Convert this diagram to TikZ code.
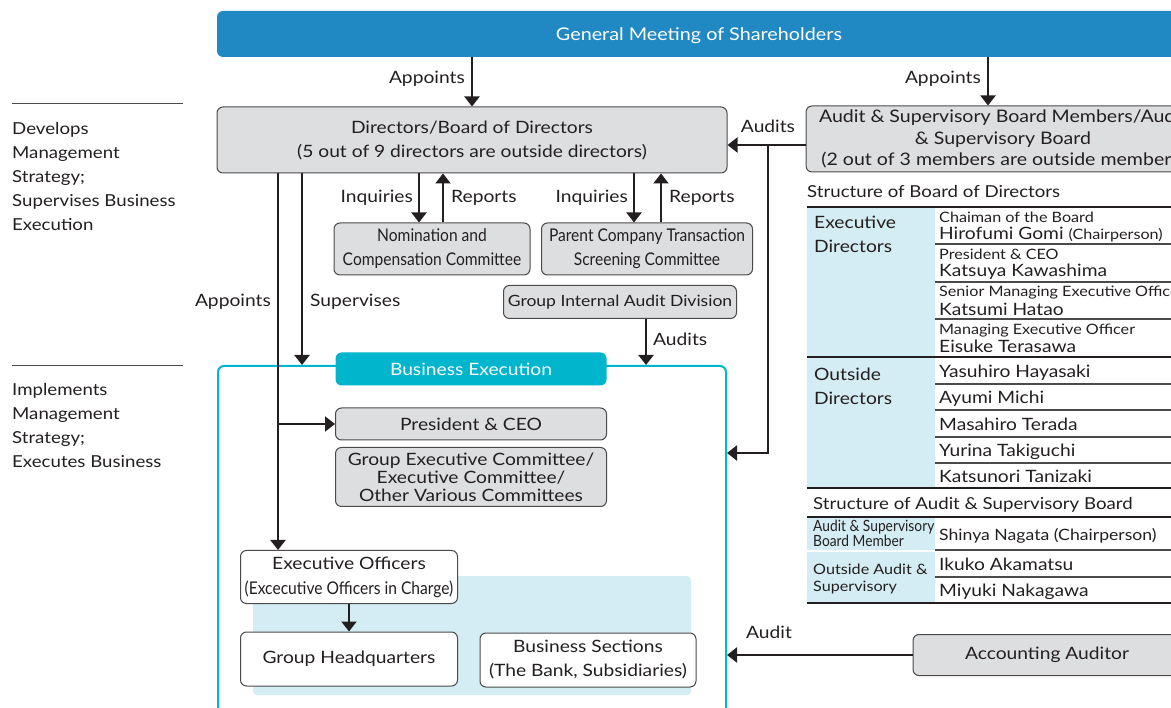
\documentclass[tikz,border=0pt]{standalone}
\usepackage{fontspec}
\setmainfont{Lato}[FakeStretch=1.13]
\newfontfamily\condf[FakeStretch=0.89]{Lato}
\usetikzlibrary{arrows.meta,calc}
\definecolor{gmblue}{HTML}{2089C4}
\definecolor{boxgray}{HTML}{DDDEE0}
\definecolor{boxedge}{HTML}{4A4A4A}
\definecolor{txt}{HTML}{231F20}
\definecolor{cyanb}{HTML}{00B5CC}
\definecolor{lblue}{HTML}{D4ECF3}
\tikzset{
  graybox/.style={draw=boxedge, fill=boxgray, rounded corners=6pt, line width=1pt, inner sep=0pt, align=center, text=txt, font=\fontsize{17}{24}\selectfont},
  whitebox/.style={graybox, fill=white},
  arr/.style={line width=2pt, draw=txt, -{Triangle[width=15pt,length=10pt]}},
  lbl/.style={font=\fontsize{17}{20}\selectfont, text=txt, inner sep=0pt},
  side/.style={font=\fontsize{16.5}{24}\selectfont, text=txt, inner sep=0pt, align=left, anchor=north west},
  cell/.style={font=\fontsize{17}{20}\selectfont, text=txt, inner sep=0pt, anchor=base west},
  smallcell/.style={font=\fontsize{14.3}{17}\selectfont, text=txt, inner sep=0pt, anchor=base west},
  tline/.style={line width=1.6pt, draw=txt},
  sline/.style={line width=1.2pt, draw=boxedge},
}
\begin{document}
\begin{tikzpicture}[x=1pt,y=-1pt]
\useasboundingbox (0,0) rectangle (1171,708);
\clip (0,0) rectangle (1171,708);

% left side texts
\draw[line width=1pt, draw=boxedge] (12,104) -- (183,104);
\node[side] (devtxt) at (12,122) {Develops\\Management\\Strategy;\\Supervises Business\\Execution};
\draw[line width=1pt, draw=boxedge] (12,366) -- (183,366);
\node[side] (imptxt) at (12,383) {Implements\\Management\\Strategy;\\Executes Business};

% general meeting
\node[fill=gmblue, rounded corners=6pt, minimum width=964pt, minimum height=46pt, inner sep=0pt] (gm) at (699,34) {};
\node[text=white, inner sep=0pt, font=\fontsize{17.5}{20}\selectfont] (gmtxt) at (699,36) {General Meeting of Shareholders};

% directors
\node[graybox, minimum width=510pt, minimum height=66pt] (dir) at (472,140) {Directors/Board of Directors\\(5 out of 9 directors are outside directors)};
\node[graybox, minimum width=394pt, minimum height=66pt, font=\fontsize{17.3}{21.5}\selectfont] (aud) at (1003,139) {Audit \& Supervisory Board Members/Audit\\\& Supervisory Board\\(2 out of 3 members are outside members)};

% appoints arrows
\draw[arr] (dir.north |- gm.south) -- (dir.north);
\node[lbl, anchor=east] (ap1) at (465,79) {Appoints};
\coordinate (aptop) at (988,57);
\draw[arr] (aptop) -- (aptop |- aud.north);
\node[lbl, anchor=east] (ap2) at (981,79) {Appoints};

% audits to directors
\coordinate (audl) at ([yshift=-6pt]aud.west);
\draw[arr] (audl) -- (audl -| dir.east);
\node[lbl] (audlbl) at (768,126) {Audits};

% committees
\node[graybox, minimum width=196pt, minimum height=52pt, font=\condf\fontsize{17.5}{24}\selectfont] (nom) at (432,249) {Nomination and\\Compensation Committee};
\node[graybox, minimum width=211pt, minimum height=52pt, font=\condf\fontsize{17.5}{24}\selectfont] (par) at (647,249) {Parent Company Transaction\\Screening Committee};
\node[graybox, minimum width=233pt, minimum height=33pt, font=\fontsize{15.5}{20}\selectfont] (giad) at (620,302) {Group Internal Audit Division};

\coordinate (n1) at (419,222);
\coordinate (n2) at (443,222);
\draw[arr] (n1 |- dir.south) -- (n1 |- nom.north);
\draw[arr] (n2 |- nom.north) -- (n2 |- dir.south);
\node[lbl, anchor=east] (inq1) at (413,198) {Inquiries};
\node[lbl, anchor=west] (rep1) at (451,198) {Reports};
\coordinate (p1) at (634,222);
\coordinate (p2) at (661,222);
\draw[arr] (p1 |- dir.south) -- (p1 |- par.north);
\draw[arr] (p2 |- par.north) -- (p2 |- dir.south);
\node[lbl, anchor=east] (inq2) at (628,198) {Inquiries};
\node[lbl, anchor=west] (rep2) at (669,198) {Reports};

% business execution frame
\node[draw=cyanb, line width=2pt, rounded corners=6pt, minimum width=508pt, minimum height=354pt, inner sep=0pt] (befr) at (472,543) {};
\fill[lblue, rounded corners=4pt] (253,576) rectangle (691,695);
\node[fill=cyanb, rounded corners=6pt, minimum width=271pt, minimum height=33pt, inner sep=0pt, text=white, font=\fontsize{17}{20}\selectfont] (belbl) at (471,369) {Business Execution};

\coordinate (ga) at (646,318);
\draw[arr] (ga |- giad.south) -- (ga |- befr.north);
\node[lbl, anchor=west] (aud2) at (653,339) {Audits};

\node[graybox, minimum width=271pt, minimum height=32pt] (pceo) at (471,424) {President \& CEO};
\node[graybox, minimum width=271pt, minimum height=59pt, font=\fontsize{17}{18}\selectfont] (gec) at (471,477) {Group Executive Committee/\\Executive Committee/\\Other Various Committees};
\node[whitebox, minimum width=217pt, minimum height=53pt, font=\fontsize{17}{25}\selectfont] (eo) at (349,577) {Executive Officers\\{\condf\fontsize{17.5}{25}\selectfont (Excecutive Officers in Charge)}};
\node[whitebox, minimum width=217pt, minimum height=54pt] (ghq) at (349,659) {Group Headquarters};
\node[whitebox, minimum width=216pt, minimum height=54pt] (bs) at (588,660) {Business Sections\\(The Bank, Subsidiaries)};
\draw[arr] (eo.south) -- (ghq.north);

% appoints / supervises lines
\coordinate (ax) at (278,172);
\coordinate (sx) at (302,172);
\draw[arr] (ax |- dir.south) -- (ax |- eo.north);
\draw[arr] (ax |- pceo.west) -- (pceo.west);
\draw[arr] (sx |- dir.south) -- (sx |- befr.north);
\node[lbl, anchor=east] (ap3) at (271,302) {Appoints};
\node[lbl, anchor=west] (sup) at (310,302) {Supervises};

% audits line to business execution
\coordinate (aj) at (768,145);
\draw[arr] (aj) |- ([yshift=90pt]befr.east);

% accounting auditor
\node[graybox, minimum width=268pt, minimum height=41pt] (acc) at (1047,655) {Accounting Auditor};
\draw[arr] (acc.west) -- (acc.west -| befr.east);
\node[lbl] (audit3) at (769,632) {Audit};

% table: board of directors
\node[lbl, anchor=base west, font=\fontsize{16.5}{20}\selectfont] (t1) at (807,198) {Structure of Board of Directors};
\fill[lblue] (807,207) rectangle (935,488);
\fill[lblue] (807,517) rectangle (935,550);
\fill[lblue] (807,552) rectangle (935,602);
\draw[tline] (807,207) -- (1171,207);
\foreach \yy in {244,282,319} {\draw[sline] (935,\yy) -- (1171,\yy);}
\draw[tline] (807,357) -- (1171,357);
\foreach \yy in {384,410,437,463} {\draw[sline] (935,\yy) -- (1171,\yy);}
\draw[tline] (807,488) -- (1171,488);
\draw[tline] (807,517) -- (1171,517);
\draw[sline] (935,550) -- (1171,550);
\draw[sline] (935,577) -- (1171,577);
\draw[tline] (807,603) -- (1171,603);

\node[cell] (ed1) at (814,229) {Executive};
\node[cell] (ed2) at (814,253) {Directors};
\node[smallcell] (r1a) at (939,223) {Chaiman of the Board};
\node[cell] (r1b) at (939,240) {Hirofumi Gomi {\fontsize{14.3}{17}\selectfont (Chairperson)}};
\node[smallcell] (r2a) at (939,260) {President \& CEO};
\node[cell] (r2b) at (939,277) {Katsuya Kawashima};
\node[smallcell] (r3a) at (939,297) {Senior Managing Executive Officer};
\node[cell] (r3b) at (939,316) {Katsumi Hatao};
\node[smallcell] (r4a) at (939,335) {Managing Executive Officer};
\node[cell] (r4b) at (939,353) {Eisuke Terasawa};
\node[cell] (od1) at (814,381) {Outside};
\node[cell] (od2) at (814,405) {Directors};
\node[cell] (o1) at (939,378) {Yasuhiro Hayasaki};
\node[cell] (o2) at (939,404) {Ayumi Michi};
\node[cell] (o3) at (939,431) {Masahiro Terada};
\node[cell] (o4) at (939,457) {Yurina Takiguchi};
\node[cell] (o5) at (939,483) {Katsunori Tanizaki};

\node[cell, font=\fontsize{16.5}{20}\selectfont] (t2) at (813,510) {Structure of Audit \& Supervisory Board};
\node[anchor=base west, inner sep=0pt, text=txt, font=\condf\fontsize{15.5}{15}\selectfont] (am1) at (813,532) {Audit \& Supervisory};
\node[anchor=base west, inner sep=0pt, text=txt, font=\condf\fontsize{15.5}{15}\selectfont] (am2) at (813,547) {Board Member};
\node[smallcell] (oa1) at (813,575) {Outside Audit \&};
\node[smallcell] (oa2) at (813,591) {Supervisory};
\node[cell, font=\fontsize{15.6}{20}\selectfont] (s1) at (939,541) {Shinya Nagata (Chairperson)};
\node[cell] (s2) at (939,571) {Ikuko Akamatsu};
\node[cell] (s3) at (939,597) {Miyuki Nakagawa};
\end{tikzpicture}
\end{document}
